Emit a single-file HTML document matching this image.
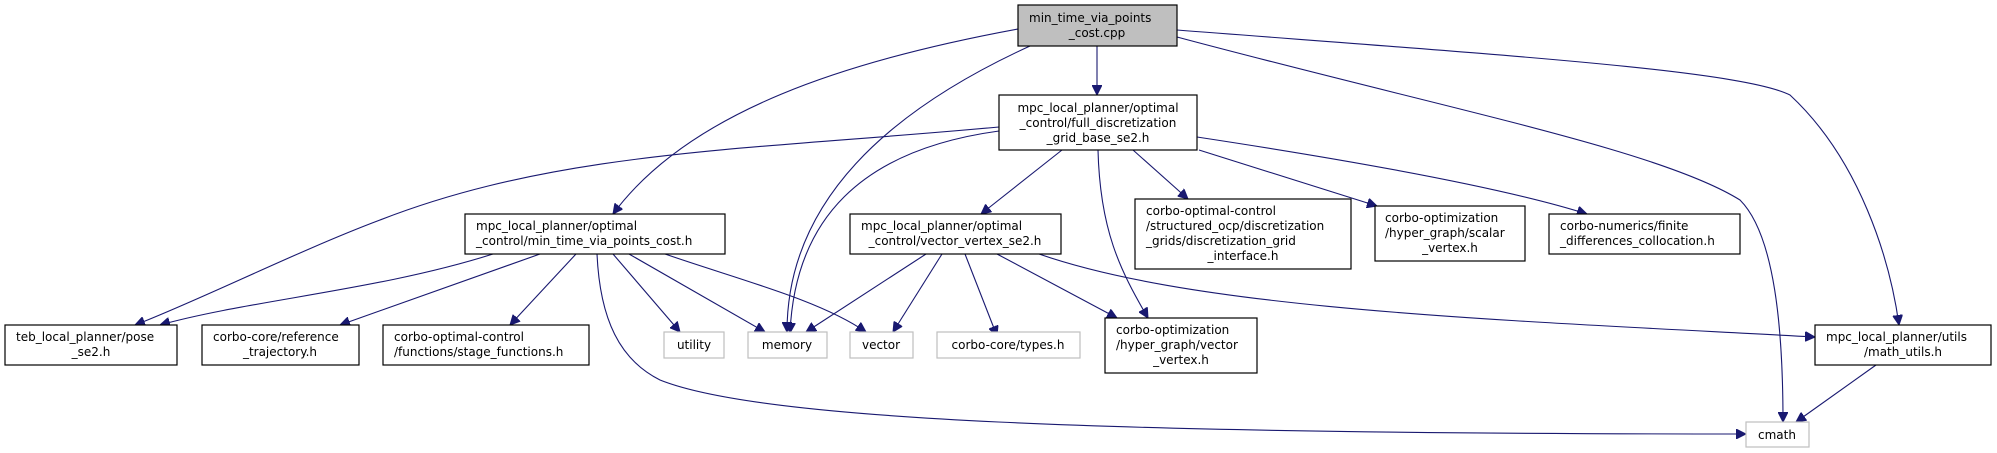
<!DOCTYPE html>
<html><head><meta charset="utf-8"><style>
html,body{margin:0;padding:0;background:#fff;}
svg{display:block;}
text{font-family:"DejaVu Sans","Liberation Sans",sans-serif;font-size:12px;fill:#000;}
.e{fill:none;stroke:#191970;stroke-width:1.1;}
.b{fill:#fff;stroke:#000;stroke-width:1.2;}
.g{fill:#fff;stroke:#bfbfbf;stroke-width:1.2;}
</style></head><body>
<svg width="1997" height="453" viewBox="0 0 1997 453" xmlns="http://www.w3.org/2000/svg">
<defs>
<marker id="a" viewBox="0 0 10 10" refX="10" refY="5" markerWidth="10" markerHeight="10" markerUnits="userSpaceOnUse" orient="auto">
<path d="M0,0 L10,5 L0,10 z" fill="#191970" stroke="#191970"/>
</marker>
</defs>
<g marker-end="url(#a)">
<path class="e" d="M1097,46 L1097,95"/>
<path class="e" d="M1018,29 C850,60 690,110 613,214"/>
<path class="e" d="M1030,46 C890,110 787,200 787,332"/>
<path class="e" d="M1177,37 C1450,110 1660,150 1740,200 C1775,235 1783,330 1783,422"/>
<path class="e" d="M1177,30 C1500,55 1740,70 1790,95 C1860,160 1890,260 1899,325"/>
<path class="e" d="M999,127 C750,150 560,150 380,220 C300,250 200,300 135,325"/>
<path class="e" d="M999,131 C860,150 795,220 790,333"/>
<path class="e" d="M1062,150 L981,214"/>
<path class="e" d="M1098,150 C1100,230 1120,270 1148,318"/>
<path class="e" d="M1133,150 L1188,199"/>
<path class="e" d="M1199,150 L1377,206"/>
<path class="e" d="M1197,137 Q1480,180 1587,214"/>
<path class="e" d="M493,254 C380,290 250,300 160,325"/>
<path class="e" d="M540,254 L340,325"/>
<path class="e" d="M576,254 L510,325"/>
<path class="e" d="M613,254 L680,332"/>
<path class="e" d="M629,254 L765,332"/>
<path class="e" d="M665,254 C740,280 820,300 866,332"/>
<path class="e" d="M597,254 C600,320 620,360 660,380 C760,420 1100,434 1746,434"/>
<path class="e" d="M926,254 L806,332"/>
<path class="e" d="M942,254 L893,332"/>
<path class="e" d="M965,254 L997,336"/>
<path class="e" d="M997,254 L1117,318"/>
<path class="e" d="M1039,254 C1200,310 1500,320 1815,337"/>
<path class="e" d="M1876,365 L1796,422"/>
</g>
<rect x="1018" y="5" width="159" height="41" fill="#bfbfbf" stroke="#000" stroke-width="1.2"/>
<text x="1029" y="22">min_time_via_points</text>
<text x="1097" y="37" text-anchor="middle">_cost.cpp</text>
<rect class="b" x="999" y="95" width="198" height="55"/>
<text x="1098" y="112" text-anchor="middle">mpc_local_planner/optimal</text>
<text x="1098" y="127" text-anchor="middle">_control/full_discretization</text>
<text x="1098" y="142" text-anchor="middle">_grid_base_se2.h</text>
<rect class="b" x="465" y="214" width="260" height="40"/>
<text x="476" y="230">mpc_local_planner/optimal</text>
<text x="476" y="245">_control/min_time_via_points_cost.h</text>
<rect class="b" x="850" y="214" width="211" height="40"/>
<text x="861" y="230">mpc_local_planner/optimal</text>
<text x="955" y="245" text-anchor="middle">_control/vector_vertex_se2.h</text>
<rect class="b" x="1135" y="199" width="216" height="70"/>
<text x="1146" y="215">corbo-optimal-control</text>
<text x="1146" y="230">/structured_ocp/discretization</text>
<text x="1146" y="245">_grids/discretization_grid</text>
<text x="1243" y="260" text-anchor="middle">_interface.h</text>
<rect class="b" x="1375" y="206" width="150" height="55"/>
<text x="1385" y="222">corbo-optimization</text>
<text x="1385" y="237">/hyper_graph/scalar</text>
<text x="1450" y="252" text-anchor="middle">_vertex.h</text>
<rect class="b" x="1549" y="214" width="191" height="40"/>
<text x="1560" y="230">corbo-numerics/finite</text>
<text x="1560" y="245">_differences_collocation.h</text>
<rect class="b" x="5" y="325" width="172" height="40"/>
<text x="16" y="341">teb_local_planner/pose</text>
<text x="91" y="356" text-anchor="middle">_se2.h</text>
<rect class="b" x="202" y="325" width="157" height="40"/>
<text x="213" y="341">corbo-core/reference</text>
<text x="280" y="356" text-anchor="middle">_trajectory.h</text>
<rect class="b" x="383" y="325" width="206" height="40"/>
<text x="394" y="341">corbo-optimal-control</text>
<text x="394" y="356">/functions/stage_functions.h</text>
<rect class="g" x="664" y="332" width="60" height="26"/>
<text x="694" y="349" text-anchor="middle">utility</text>
<rect class="g" x="748" y="332" width="79" height="26"/>
<text x="787" y="349" text-anchor="middle">memory</text>
<rect class="g" x="850" y="332" width="63" height="26"/>
<text x="881" y="349" text-anchor="middle">vector</text>
<rect class="g" x="937" y="332" width="143" height="26"/>
<text x="1008" y="349" text-anchor="middle">corbo-core/types.h</text>
<rect class="b" x="1105" y="318" width="152" height="55"/>
<text x="1116" y="334">corbo-optimization</text>
<text x="1116" y="349">/hyper_graph/vector</text>
<text x="1181" y="364" text-anchor="middle">_vertex.h</text>
<rect class="b" x="1815" y="325" width="176" height="40"/>
<text x="1826" y="341">mpc_local_planner/utils</text>
<text x="1903" y="356" text-anchor="middle">/math_utils.h</text>
<rect class="g" x="1746" y="422" width="63" height="25"/>
<text x="1777" y="439" text-anchor="middle">cmath</text>
</svg>
</body></html>
